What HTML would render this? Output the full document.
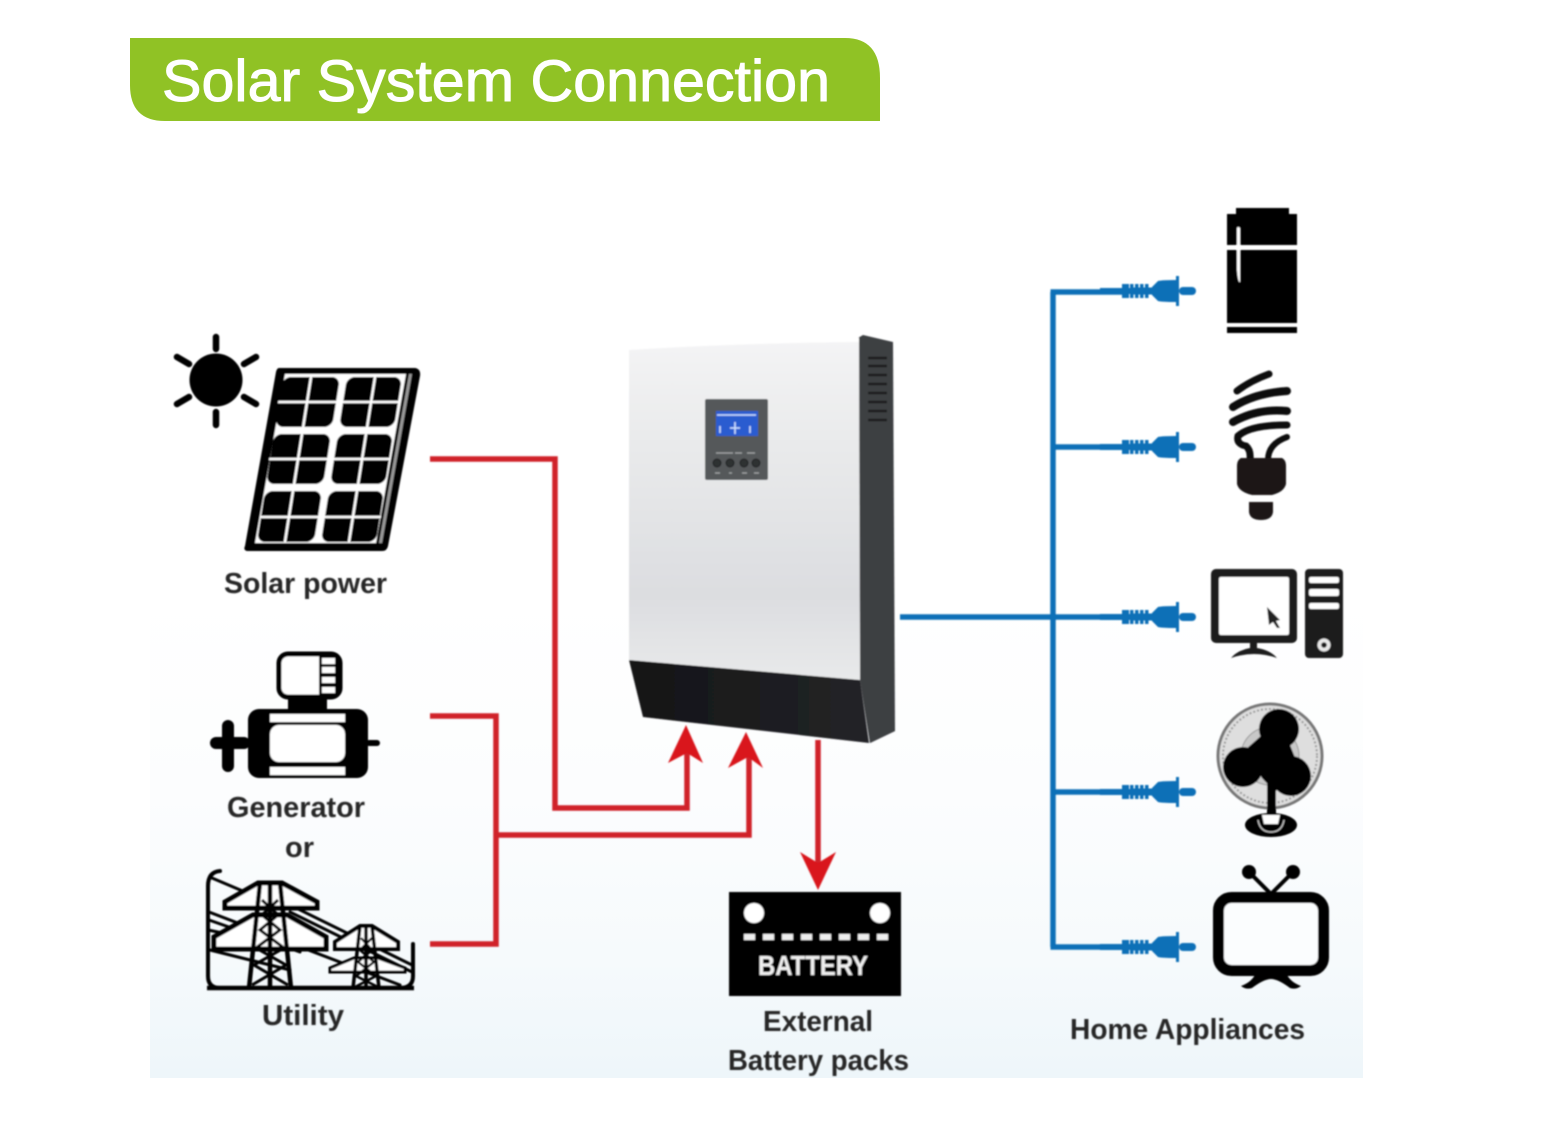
<!DOCTYPE html>
<html><head><meta charset="utf-8"><style>
html,body{margin:0;padding:0;background:#fff;width:1565px;height:1126px;overflow:hidden}
svg{display:block}
.l{font-family:"Liberation Sans",sans-serif;font-weight:bold;font-size:29px;fill:#262626}
</style></head><body>
<svg width="1565" height="1126" viewBox="0 0 1565 1126" xmlns="http://www.w3.org/2000/svg">
<defs>
<linearGradient id="bg" x1="0" y1="0" x2="0" y2="1"><stop offset="0" stop-color="#fff"/><stop offset=".4" stop-color="#fcfdfe"/><stop offset=".75" stop-color="#f6fafc"/><stop offset="1" stop-color="#eef6fa"/></linearGradient>
<linearGradient id="face" x1="0" y1="0" x2="0" y2="1"><stop offset="0" stop-color="#f4f4f5"/><stop offset=".3" stop-color="#e9eaeb"/><stop offset=".75" stop-color="#dcdde0"/><stop offset="1" stop-color="#e8e9ea"/></linearGradient>
<linearGradient id="blk" x1="0" y1="0" x2="1" y2="0"><stop offset="0" stop-color="#141416"/><stop offset="1" stop-color="#232427"/></linearGradient>
<filter id="soft"><feGaussianBlur stdDeviation=".7"/></filter>
<g id="plug">
<rect x="0" y="-3" width="34" height="6" fill="#0f70b7"/>
<rect x="22" y="-7" width="7" height="14" fill="#0f70b7"/>
<rect x="30" y="-7" width="3.5" height="14" fill="#0f70b7"/><rect x="35" y="-7" width="3.5" height="14" fill="#0f70b7"/><rect x="40" y="-7" width="3.5" height="14" fill="#0f70b7"/><rect x="45" y="-7" width="3.5" height="14" fill="#0f70b7"/>
<rect x="30" y="-3.5" width="22" height="7" fill="#0f70b7"/>
<path d="M52-4 L58-10 Q62-11 76-11 V-15 H79 V15 H76 V11 Q62 11 58 10 L52 4Z" fill="#0f70b7"/>
<rect x="79" y="-4" width="17" height="8" rx="4" fill="#0f70b7"/>
</g>
</defs>
<rect width="1565" height="1126" fill="#fff"/>
<rect x="150" y="600" width="1213" height="478" fill="url(#bg)"/>

<path d="M130 38 H845 Q880 38 880 78 V121 H165 Q130 121 130 85Z" fill="#90c225"/>
<text x="162" y="101" font-family="'Liberation Sans',sans-serif" font-size="58" fill="#fff" stroke="#fff" stroke-width="1" textLength="668" lengthAdjust="spacingAndGlyphs">Solar System Connection</text>

<g filter="url(#soft)">
<!-- sun -->
<circle cx="216" cy="380" r="26.5" fill="#000"/>
<g stroke="#000" stroke-width="6.5" stroke-linecap="round" fill="none">
<path d="M216 337V349M216 412V425M177 357L189 364M256 357L244 364M177 404L189 397M256 404L244 397"/>
</g>
<!-- solar panel -->
<path d="M279 368 H415 Q421 369 420 376 L388 546 Q387 551 382 551 H247 Q243 550 245 546 L276 372 Q277 368 279 368Z" fill="#000"/>
<path d="M285 374 H406 L376 543 H255Z" fill="#fff"/>
<path d="M409 374 L412 374 L382 543 L379 543Z" fill="#999"/>
<g transform="matrix(1 0 -.158 1 59.6 0)">
<g fill="#000">
<rect x="283" y="377" width="57" height="50" rx="8"/><rect x="347" y="377" width="55" height="50" rx="8"/>
<rect x="283" y="434" width="57" height="50" rx="8"/><rect x="347" y="434" width="55" height="50" rx="8"/>
<rect x="283" y="491" width="57" height="51" rx="8"/><rect x="347" y="491" width="55" height="51" rx="8"/>
</g>
<g stroke="#fff" stroke-width="2.5">
<path d="M282 402H403M282 459H403M282 517H403M311 376V543M375 376V543"/>
</g>
</g>
<!-- generator -->
<rect x="279" y="654" width="61" height="43" rx="9" fill="#fff" stroke="#000" stroke-width="5"/>
<rect x="319" y="655" width="19" height="41" fill="#000"/>
<g fill="#fff"><rect x="322" y="658" width="13" height="6"/><rect x="322" y="667" width="13" height="6"/><rect x="322" y="677" width="13" height="6"/><rect x="322" y="687" width="13" height="6"/></g>
<rect x="288" y="697" width="39" height="14" fill="#000"/>
<rect x="248" y="709" width="120" height="69" rx="11" fill="#000"/>
<rect x="270" y="714" width="75" height="8" fill="#fff"/>
<rect x="270" y="725" width="75" height="37" rx="9" fill="#fff"/>
<rect x="270" y="767" width="75" height="8" fill="#fff"/>
<rect x="210" y="737" width="40" height="12" rx="6" fill="#000"/>
<rect x="222" y="720" width="12" height="52" rx="6" fill="#000"/>
<rect x="366" y="740" width="14" height="6" rx="3" fill="#000"/>
<!-- utility -->
<g fill="none" stroke="#000" stroke-linecap="round">
<path d="M220 871 Q208 872 208 886 V976 Q208 988 220 988 H400 Q413 988 413 976 V944" stroke-width="4"/>
<path d="M212 878L245 892M209 912L400 985M209 920L300 952M210 950L290 970M290 905L412 965M290 912L412 972M208 930L280 945" stroke-width="3"/>
</g>
<path d="M258 883 L225 902 V908 H317 V902 L282 883Z" fill="#fff" stroke="#000" stroke-width="5"/>
<path d="M253 915 L214 937 V949 H326 V937 L287 915Z" fill="#fff" stroke="#000" stroke-width="5"/>
<g fill="none" stroke="#000" stroke-width="4.5">
<path d="M260 883 L249 988M280 883 L291 988M270 883V988"/>
<path d="M262 900L278 915L260 930L284 948L254 965L288 985M278 900L262 915L280 930L256 948L286 965L252 985" stroke-width="3"/>
</g>
<path d="M360 926 L335 942 V949 H398 V942 L372 926Z" fill="#fff" stroke="#000" stroke-width="4"/>
<path d="M354 958 L330 968 L330 972 H405 L405 968 L378 958Z" fill="#fff" stroke="#000" stroke-width="3"/>
<g fill="none" stroke="#000" stroke-width="3.5">
<path d="M360 926 L353 988M372 926 L379 988M366 926V988"/>
<path d="M361 938L372 950L358 962L376 976L355 987M372 938L360 950L374 962L356 976L378 987" stroke-width="2.4"/>
</g>
<path d="M207 988 H414" stroke="#000" stroke-width="4.5"/>

<!-- inverter -->
<path d="M858 338 L863 335 L893 342 L895 731 L870 743 L860 680Z" fill="#3c3f42"/>
<path d="M629 347 Q740 340 859 340 L860 680 L629 660Z" fill="url(#face)"/>
<path d="M629 346 Q740 339 859 338 V342 Q740 343 629 350Z" fill="#fff"/>
<path d="M629 660 L860 680 L869 743 L643 717Z" fill="url(#blk)"/>
<path d="M860 680 L895 731 L870 743Z" fill="#3c3f42"/>
<g stroke="#1a1b1d" stroke-width="2.6">
<path d="M868 358H887M868 366H887M868 375H887M868 384H887M868 393H887M868 402H887M868 411H887M868 420H887"/>
</g>
<rect x="705" y="399" width="63" height="81" rx="2" fill="#55585a"/>
<rect x="716" y="411" width="42" height="25" fill="#2a5bd0"/>
<path d="M717 415H756M720 426V433M730 428H740M735 422V434M750 426V433" stroke="#cfe0ff" stroke-width="1.6"/>
<g fill="#2f3133" stroke="#1d1e20"><circle cx="717" cy="463" r="4"/><circle cx="730" cy="463" r="4"/><circle cx="744" cy="463" r="4"/><circle cx="756" cy="463" r="4"/></g>
<path d="M716 453H733M735 453H742M747 453H755M715 473H720M729 473H732M742 473H747M754 473H759" stroke="#a5a7a9" stroke-width="1.2"/>

<!-- red connectors -->
<g fill="none" stroke="#d0202a" stroke-width="5.5">
<path d="M430 459 H555 V808 H687 V752"/>
<path d="M430 716 H496 V944 H430"/>
<path d="M496 835 H749 V756"/>
<path d="M818 740 V864"/>
</g>
<g fill="#d9181f">
<path d="M686 725 L703 763 L687 753 L668 763Z"/>
<path d="M746 732 L763 768 L748 757 L728 768Z"/>
<path d="M818 890 L800 852 L818 863 L836 852Z"/>
</g>

<!-- blue connectors -->
<g fill="none" stroke="#0f70b7" stroke-width="5.5">
<path d="M900 617 H1122"/>
<path d="M1053 292 V947"/>
<path d="M1050.5 292 H1122M1053 447 H1122M1053 792 H1122M1050.5 947 H1122"/>
</g>
<use href="#plug" x="1100" y="291"/>
<use href="#plug" x="1100" y="447"/>
<use href="#plug" x="1100" y="617"/>
<use href="#plug" x="1100" y="792"/>
<use href="#plug" x="1100" y="947"/>

<!-- fridge -->
<path d="M1236 214 V208 H1289 V214 H1297 V245 H1227 V214Z" fill="#000"/>
<rect x="1227" y="250" width="70" height="73" fill="#000"/>
<rect x="1227" y="327" width="70" height="6" fill="#000"/>
<path d="M1237 228 Q1238 226 1240 228 L1240 282 Q1238 283 1237 270Z" fill="#fff"/>
<!-- bulb -->
<g fill="none" stroke="#111" stroke-width="7" stroke-linecap="round">
<path d="M1237 391 Q1250 381 1269 374"/>
<path d="M1233 407 Q1255 393 1287 391" stroke-width="8"/>
<path d="M1233 422 Q1258 408 1287 411" stroke-width="8"/>
<path d="M1287 425 Q1250 425 1238 436 Q1236 444 1246 446 Q1251 450 1250 460" stroke-width="7"/>
<path d="M1287 437 Q1268 444 1268 460" stroke-width="6"/>
</g>
<path d="M1241 458 H1282 Q1286 460 1286 466 V484 Q1284 492 1272 495 H1252 Q1239 492 1237 484 V466 Q1237 460 1241 458Z" fill="#1a1718"/>
<path d="M1249 502 H1273 V512 Q1272 520 1261 520 Q1250 520 1249 512Z" fill="#1a1718"/>
<!-- computer -->
<rect x="1211" y="569" width="86" height="74" rx="5" fill="#1a1a1a"/>
<rect x="1219" y="577" width="70" height="58" rx="2" fill="#fff"/>
<path d="M1267 607 L1280 620 L1276 621 L1280 628 L1277 628 L1273 622 L1269 625Z" fill="#222"/>
<path d="M1250 642 H1257 V648 Q1270 650 1277 658 Q1254 650 1231 658 Q1238 650 1250 648Z" fill="#1a1a1a"/>
<rect x="1305" y="569" width="38" height="89" rx="4" fill="#1a1a1a"/>
<rect x="1309" y="577" width="30" height="6" rx="2" fill="#fff"/>
<rect x="1309" y="589" width="30" height="7" rx="2" fill="#fff"/>
<rect x="1309" y="603" width="30" height="6" rx="2" fill="#fff"/>
<circle cx="1324" cy="645" r="6.5" fill="#e8e8e8"/><circle cx="1324" cy="645" r="2.8" fill="#1a1a1a"/>
<!-- fan -->
<circle cx="1270" cy="756" r="52" fill="#dedede" stroke="#777" stroke-width="3"/>
<circle cx="1270" cy="756" r="47" fill="none" stroke="#999" stroke-width="2" stroke-dasharray="2 2"/>
<circle cx="1270" cy="756" r="29" fill="#c8c8c8" stroke="#999"/>
<g fill="#000">
<circle cx="1279" cy="729" r="20"/><circle cx="1243" cy="767" r="20"/><circle cx="1291" cy="776" r="20"/>
<path d="M1262 735 L1290 745 L1298 765 L1275 792 L1262 778 L1245 750Z"/>
<rect x="1267" y="770" width="9" height="48"/>
<ellipse cx="1271" cy="825" rx="26" ry="12"/>
</g>
<path d="M1262 815 H1280 L1278 824 H1264Z" fill="#fff"/>
<path d="M1258 820 Q1260 832 1271 832 Q1282 832 1284 820" fill="none" stroke="#ccc" stroke-width="1.2"/>
<!-- TV -->
<rect x="1218.5" y="897.5" width="105" height="73" rx="13" fill="#fbfdfe" stroke="#000" stroke-width="11"/>
<path d="M1249 872 L1271 894 L1293 872" fill="none" stroke="#000" stroke-width="4"/>
<circle cx="1249" cy="872" r="7" fill="#000"/><circle cx="1293" cy="872" r="7" fill="#000"/>
<path d="M1256 973 H1286 Q1290 982 1301 986 Q1296 990 1290 988 Q1278 979 1271 979 Q1264 979 1252 988 Q1246 990 1241 986 Q1252 982 1256 973Z" fill="#000"/>
<!-- battery -->
<rect x="729" y="892" width="172" height="104" fill="#000"/>
<circle cx="754" cy="913" r="10" fill="#fff"/><circle cx="880" cy="913" r="10" fill="#fff"/>
<g fill="#eee"><rect x="744" y="934" width="11" height="6"/><rect x="763" y="934" width="11" height="6"/><rect x="782" y="934" width="11" height="6"/><rect x="801" y="934" width="11" height="6"/><rect x="820" y="934" width="11" height="6"/><rect x="839" y="934" width="11" height="6"/><rect x="858" y="934" width="11" height="6"/><rect x="877" y="934" width="11" height="6"/></g>
<text x="758" y="975" font-family="'Liberation Sans',sans-serif" font-weight="bold" font-size="28" fill="#eee" textLength="110" lengthAdjust="spacingAndGlyphs">BATTERY</text>

<!-- labels -->
<text class="l" x="224" y="593" textLength="163" lengthAdjust="spacingAndGlyphs">Solar power</text>
<text class="l" x="227" y="817" textLength="138" lengthAdjust="spacingAndGlyphs">Generator</text>
<text class="l" x="285" y="857" textLength="29" lengthAdjust="spacingAndGlyphs">or</text>
<text class="l" x="262" y="1025" textLength="82" lengthAdjust="spacingAndGlyphs">Utility</text>
<text class="l" x="763" y="1031" textLength="110" lengthAdjust="spacingAndGlyphs">External</text>
<text class="l" x="728" y="1070" textLength="181" lengthAdjust="spacingAndGlyphs">Battery packs</text>
<text class="l" x="1070" y="1039" textLength="235" lengthAdjust="spacingAndGlyphs">Home Appliances</text>
</g>
</svg>
</body></html>
